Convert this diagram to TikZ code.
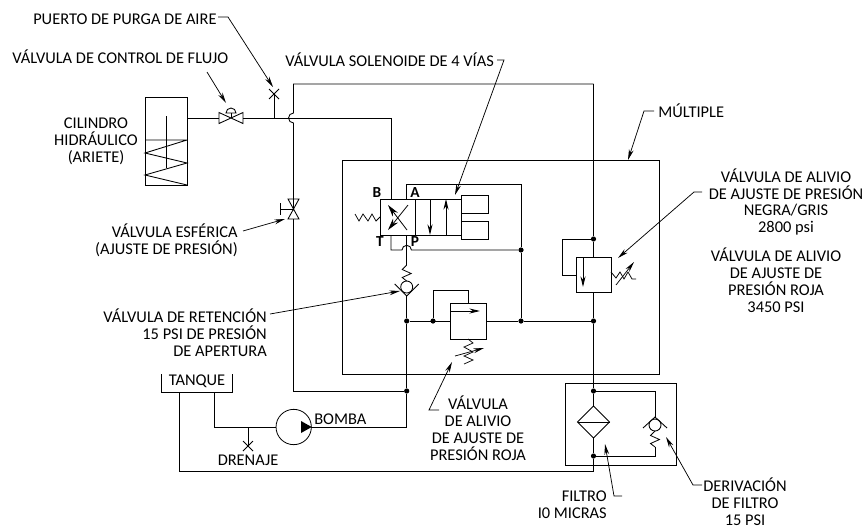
\documentclass[tikz,border=0pt]{standalone}
\usepackage{fontspec}
\setmainfont{Carlito}
\usetikzlibrary{arrows.meta,shapes.geometric}
\tikzset{
    pipe/.style       = {line width = 0.65pt, line join = miter},
    edgebox/.style    = {draw, line width = 0.75pt, inner sep = 0, outer sep = 0},
    junction/.style   = {circle, fill, inner sep = 0, minimum size = 3.9pt},
    lbl/.style        = {inner sep = 0, align = center, font = \fontsize{12.3}{12.7}\selectfont},
    lblright/.style   = {lbl, align = right},
    portlbl/.style    = {inner sep = 0, font = \fontsize{11.5}{12}\selectfont\bfseries},
    leader/.style     = {line width = 0.55pt, -{Stealth[length = 8pt, width = 3.6pt]}},
    flowtip/.style    = {line width = 0.65pt, -{Stealth[length = 8pt, width = 3.8pt]}},
    bigtip/.style     = {line width = 0.6pt, -{Stealth[length = 9pt, width = 4.8pt]}},
    xmark/.pic        = {\draw [line width = 0.55pt] (-5,-5) -- (5,5) (-5,5) -- (5,-5);},
    zigdown/.pic      = {\draw [line width = 0.6pt] (0,0) -- (-4.5,4.5) -- (4.5,8.5) -- (-4.5,12.5) -- (0,16);},
    checkup/.pic      = {\draw [line width = 0.65pt] (0,0) circle [radius = 6];
                         \draw [line width = 0.65pt] (-12,3) -- (0,-8) -- (12,3);},
    checkdown/.pic    = {\draw [line width = 0.65pt] (0,0) circle [radius = 6];
                         \draw [line width = 0.65pt] (-12,-3) -- (0,9) -- (12,-3);}
}
\begin{document}
\begin{tikzpicture}[x = 0.75pt, y = -0.75pt]
    \useasboundingbox (0,0) rectangle (866,529);

    \node [edgebox, minimum width = 31.5pt, minimum height = 66pt]  (cyl)      at (166,141)     {};
    \node [edgebox, minimum width = 238pt, minimum height = 160.5pt] (multiple) at (501,267)     {};
    \node [edgebox, minimum width = 83.25pt, minimum height = 61.5pt] (filterbox) at (620.5,424) {};
    \node [edgebox, minimum width = 26.25pt, minimum height = 27pt]  (solB)     at (397.5,217)   {};
    \node [edgebox, minimum width = 34.5pt, minimum height = 27pt]   (solC)     at (438,217)     {};
    \node [edgebox, minimum width = 20.25pt, minimum height = 13.5pt] (coilA)   at (474.5,204)   {};
    \node [edgebox, minimum width = 20.25pt, minimum height = 13.5pt] (coilB)   at (474.5,230)   {};
    \node [edgebox, minimum width = 27pt, minimum height = 27pt]     (reliefR)  at (468,321)     {};
    \node [edgebox, minimum width = 26.25pt, minimum height = 26.25pt] (reliefB) at (593.5,274.5) {};
    \node [edgebox, circle, minimum size = 26.5pt, line width = 0.6pt] (pump)   at (293.7,427)   {};
    \node [draw, pipe, diamond, shape aspect = 1, inner sep = 0, outer sep = 0, minimum size = 24pt] (filter) at (593.5,422) {};

    \node [junction] (jA)      at (521,250)   {};
    \node [junction] (jB)      at (521,321)   {};
    \node [junction] (jC)      at (433,321)   {};
    \node [junction] (jD)      at (406.7,321) {};
    \node [junction] (jE)      at (593.5,321) {};
    \node [junction] (jF)      at (593.5,239) {};
    \node [junction] (jG)      at (406.7,391) {};
    \node [junction] (jH)      at (593.5,391) {};
    \node [junction] (jI)      at (593.5,456) {};

    \coordinate (fv)      at (231,118);
    \coordinate (ball)    at (293.5,209);
    \coordinate (purge)   at (274,94);
    \coordinate (drain)   at (248,446);
    \coordinate (checkP)  at (406.7,287);
    \coordinate (checkF)  at (655,425);
    \coordinate (cylport) at (187,118);
    \coordinate (cornerB) at (391,118);
    \coordinate (cornerT) at (293.5,84);
    \coordinate (cornerM) at (593.5,84);
    \coordinate (jumpT)   at (406.7,250);

    \draw [pipe] (cyl.east |- 0,140) -- (cyl.west |- 0,140)
                 (cyl.east |- 0,140) -- (145,153) -- (187,163) -- (145,175) -- (187,185);
    \draw [pipe] (166,116) -- (166,168);

    \draw [pipe] (cylport) -- (219,118);
    \draw [pipe] (243,118) -- (cornerB) -- (cornerB |- solB.north);
    \draw [pipe, shift = {(fv)}] (-12,-5.5) -- (12,5.5) -- (12,-5.5) -- (-12,5.5) -- cycle;
    \draw [pipe] (fv) -- ++(0,-5);
    \draw [pipe, shift = {(fv)}] (-5,-5) arc [start angle = 180, end angle = 360, radius = 5] -- cycle;
    \draw [pipe] (purge) -- (purge |- fv);
    \pic at (purge) {xmark};

    \draw [pipe] (cornerM) -- (cornerT) -- ++(0,29) arc [start angle = -90, end angle = -270, radius = 5] -- (ball);
    \draw [pipe] (cornerM) -- (jF) -- (reliefB.north);
    \draw [pipe] (reliefB.south) -- (jE) -- (jH) -- (filter.north);
    \draw [pipe, shift = {(ball)}] (-5.5,-10) -- (5.5,-10) -- (-5.5,10) -- (5.5,10) -- cycle;
    \draw [pipe] (ball) -- ++(-13.5,0) ++(0,-6) -- ++(0,12);
    \draw [pipe] (ball) ++(0,10) -- (293.5,391) -- (jG);

    \draw [pipe] (jF) -- (562,239) -- (562,275) -- (reliefB.west |- 0,275);
    \draw [flowtip] (583,257) -- (583,287);
    \draw [line width = 0.55pt] (611,272) -- (616,278) -- (620,272) -- (624,279) -- (628,272) -- (632,279) -- (636,279);
    \draw [leader] (616,285) -- (634,262);

    \draw [bigtip] (407,230) -- (388,205);
    \draw [bigtip] (408,205) -- (388,230);
    \draw [flowtip] (430,199) -- (430,235);
    \draw [flowtip] (446,235) -- (446,199);
    \draw [line width = 0.55pt] (355,214) -- (359,221) -- (363,214) -- (368,221) -- (372,214) -- (376,221) -- (380,217);

    \draw [pipe] (406.7,199) -- (406.7,184) -- (521,184) -- (jA) -- (jB);
    \draw [pipe] (391,235) -- (391,250) -- (402,250) arc [start angle = 180, end angle = 360, radius = 4.7] -- (jA);
    \draw [pipe] (406.7,235) -- (406.7,265);
    \pic at (406.7,265) {zigdown};
    \pic at (checkP) {checkdown};
    \draw [pipe] (jumpT |- 0,296) -- (jD) -- (jG) -- (406.7,427) -- (pump.east);

    \draw [pipe] (jD) -- (reliefR.west |- jD);
    \draw [pipe] (reliefR.east |- jB) -- (jB) -- (jE);
    \draw [pipe] (jC) -- (433,290) -- (468,290) -- (reliefR.north);
    \draw [flowtip] (450,311) -- (480,311);
    \draw [line width = 0.55pt] (reliefR.south) -- (473,343) -- (464,347) -- (473,352) -- (464,356) -- (473,360) -- (464,364);
    \draw [leader] (455,356) -- (484,348);

    \draw [pipe] (filter.west) -- (filter.east);
    \draw [pipe] (filter.south) -- (jI) -- (593.5,471) -- (179,471) -- (179,392);
    \draw [pipe] (jH) -- (655,391) -- (655,417);
    \pic at (checkF) {checkup};
    \pic at (655,431) {zigdown};
    \draw [pipe] (655,447) -- (655,456) -- (jI);

    \draw [pipe] (161.7,374) -- (161.7,392) -- (232,392) -- (232,374);
    \draw [pipe] (214.5,392) -- (214.5,427) -- (pump.west);
    \fill (301,421) -- (311.7,427) -- (301,433) -- cycle;
    \draw [pipe] (drain) -- (248,427);
    \pic at (drain) {xmark};

    \node [lbl, anchor = west]      (lblPurge)   at (33,19)    {PUERTO DE PURGA DE AIRE};
    \node [lbl, anchor = west]      (lblFlow)    at (12,57)    {VÁLVULA DE CONTROL DE FLUJO};
    \node [lbl, anchor = west]      (lblSol)     at (285,60)   {VÁLVULA SOLENOIDE DE 4 VÍAS};
    \node [lbl, anchor = west]      (lblMult)    at (658,111)  {MÚLTIPLE};
    \node [lbl]                     (lblCyl)     at (96,141)   {CILINDRO\\HIDRÁULICO\\(ARIETE)};
    \node [lblright, anchor = east] (lblBall)    at (238,240)  {VÁLVULA ESFÉRICA\\(AJUSTE DE PRESIÓN)};
    \node [lblright, anchor = east] (lblCheck)   at (267,333)  {VÁLVULA DE RETENCIÓN\\15 PSI DE PRESIÓN\\DE APERTURA};
    \node [lbl]                     (lblBlack)   at (786,202)  {VÁLVULA DE ALIVIO\\DE AJUSTE DE PRESIÓN\\NEGRA/GRIS\\2800 psi};
    \node [lbl]                     (lblRed)     at (776,280)  {VÁLVULA DE ALIVIO\\DE AJUSTE DE\\PRESIÓN ROJA\\3450 PSI};
    \node [lbl]                     (lblRedB)    at (478,428)  {VÁLVULA\\DE ALIVIO\\DE AJUSTE DE\\PRESIÓN ROJA};
    \node [lbl]                     (lblTank)    at (197,381)  {TANQUE};
    \node [lbl, anchor = west]      (lblPump)    at (314,419)  {BOMBA};
    \node [lbl]                     (lblDrain)   at (248,460)  {DRENAJE};
    \node [lblright, anchor = east] (lblFilter)  at (607,505)  {FILTRO\\I0 MICRAS};
    \node [lbl]                     (lblBypass)  at (745,502)  {DERIVACIÓN\\DE FILTRO\\15 PSI};

    \node [portlbl] (portB) at (377,193) {B};
    \node [portlbl] (portA) at (415,193) {A};
    \node [portlbl] (portT) at (380,242) {T};
    \node [portlbl] (portP) at (415,242) {P};

    \draw [leader] (218,17) -- (228,17) -- (273,87);
    \draw [leader] (207,72) -- (226,103);
    \draw [leader] (497,60) -- (504,60) -- (455,195);
    \draw [leader] (654,111) -- (644,111) -- (628,160);
    \draw [leader] (243,231) -- (285,219);
    \draw [leader] (270,314) -- (400,291);
    \draw [leader] (702,192) -- (694,192) -- (618,258);
    \draw [leader] (439,410) -- (429,410) -- (452,362);
    \draw [leader] (622,496) -- (614,496) -- (605,444);
    \draw [leader] (702,485) -- (693,485) -- (666,437);
\end{tikzpicture}
\end{document}
